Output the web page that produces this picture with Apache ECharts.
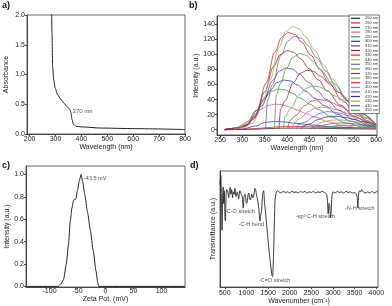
<!DOCTYPE html>
<html><head><meta charset="utf-8">
<script src="https://cdn.jsdelivr.net/npm/echarts@6/dist/echarts.min.js"></script>
<style>html,body{margin:0;padding:0;background:#fff}#c{width:392px;height:306px}</style>
</head><body><div id="c"></div>
<script>
// ---------- Panel a: UV-vis absorbance ----------
const absWavelength = [285,286.5,289,293,299,308,321,334,347,356,360,364,370,379,398,476,604,800];
const absValue      = [2.1,1.70,1.14,0.91,0.77,0.66,0.58,0.51,0.45,0.41,0.35,0.24,0.16,0.13,0.12,0.10,0.09,0.075];
const aXTicks = [200,300,400,500,600,700,800];
const aYTicks = [0,0.5,1.0,1.5,2.0];
const aNote = {x:366, y:0.38, text:'370 nm'};

// ---------- Panel b: PL emission at different excitation wavelengths ----------
const exWavelengths = [250,260,270,280,290,300,310,320,330,340,350,360,370,380,390,400,410,420,430,440,450];
const exColors = ['#222222','#d42a2a','#3a3ab8','#e0607a','#3a9a4a','#2b3a8c','#6a3a9a','#8c2030','#d02a3a','#b0a840','#5a6ac8',
                  '#4aa050','#a03040','#50b060','#d83040','#e07090','#6060c0','#303890','#a8a050','#8050a0','#40a050'];
const pl250 = [[260,0],[300,0.3],[340,1],[380,2],[420,2.2],[480,1.8],[540,1.2],[600,0.8]];
const pl260 = [[260,0],[300,0.5],[340,2],[370,3.5],[400,4.5],[450,4],[500,3.2],[550,2.5],[600,2]];
const pl270 = [[260,0],[300,1],[330,5],[350,9.5],[370,11],[390,10.5],[420,8.5],[460,6],[500,4],[550,2.5],[600,1.5]];
const pl280 = [[260,0.3],[283,2],[303,6.8],[323,16.3],[343,27.2],[358,32.3],[373,34],[388,33.3],[403,30.6],[423,26.2],[443,21.4],[463,16.7],[493,10.5],[523,5.8],[563,2.5],[600,1.2]];
const pl290 = [[260,0.3],[271,1.1],[291,3.2],[311,10.8],[331,25.9],[351,43.2],[366,51.3],[381,54],[396,52.9],[411,48.6],[431,41.6],[451,34],[471,26.5],[501,16.7],[531,9.2],[571,3.5],[600,1.8]];
const pl300 = [[260,0.3],[283,1.3],[303,4],[323,13.2],[343,31.7],[363,52.8],[378,62.7],[393,66],[408,64.7],[423,59.4],[443,50.8],[463,41.6],[483,32.3],[513,20.5],[543,11.2],[583,4.5],[600,3]];
const pl310 = [[260,0.3],[288,1.6],[308,4.9],[328,16.4],[348,39.4],[368,65.6],[383,77.9],[398,82],[413,80.4],[428,73.8],[448,63.1],[468,51.7],[488,40.2],[518,25.4],[548,13.9],[588,5],[600,3.8]];
const pl320 = [[260,0.3],[290,2.1],[310,6.3],[330,21],[350,50.4],[370,84],[385,99.8],[400,105],[415,102.9],[430,94.5],[450,80.9],[470,66.2],[490,51.5],[520,32.6],[550,17.9],[590,6],[600,4.8]];
const pl330 = [[260,0.3],[293,2.6],[313,7.7],[333,25.8],[353,61.9],[373,103.2],[388,122.6],[403,129],[418,126.4],[433,116.1],[453,99.3],[473,81.3],[493,63.2],[523,40],[553,21.9],[593,7],[600,6]];
const pl340 = [[280,0.5],[302,2.7],[322,8.2],[342,27.4],[362,65.8],[382,109.6],[397,130.2],[412,137],[427,134.3],[442,123.3],[462,105.5],[482,86.3],[502,67.1],[532,42.5],[562,23.3],[600,7.5]];
const pl350 = [[352,1],[357,40],[367,59.5],[387,99.2],[402,117.8],[417,124],[432,121.5],[447,111.6],[467,95.5],[487,78.1],[507,60.8],[537,38.4],[567,21.1],[600,7]];
const pl360 = [[372,1],[376,46],[386,62],[398,80.8],[413,96],[428,101],[443,99],[458,90.9],[478,77.8],[498,63.6],[518,49.5],[548,31.3],[578,16],[600,7.5]];
const pl370 = [[382,1],[386,28],[395,38],[415,63.2],[430,75],[445,79],[460,77.4],[475,71.1],[495,60.8],[515,49.8],[535,38.7],[565,22],[600,7]];
const pl380 = [[392,1],[396,18],[408,28],[428,46.4],[443,55],[458,58],[473,56.8],[488,52.2],[508,44.7],[528,36.5],[548,28.4],[578,15],[600,6.5]];
const pl390 = [[402,1],[406,12],[420,19.2],[440,32],[455,38],[470,40],[485,39.2],[500,36],[520,30.8],[540,25.2],[560,18.5],[580,12],[600,6]];
const pl400 = [[412,1],[416,9],[428,14.4],[448,24],[463,28.5],[478,30],[493,29.4],[508,27],[528,23.1],[548,18.9],[568,14],[600,6.5]];
const pl410 = [[422,1],[426,7],[440,10],[460,17.5],[475,22],[490,24],[505,23.5],[520,21.6],[540,18.5],[560,15],[580,10.5],[600,6]];
const pl420 = [[432,1],[436,5],[450,7.5],[470,13.5],[485,16.5],[500,18],[515,17.6],[530,16.2],[550,13.9],[570,10.5],[600,6]];
const pl430 = [[442,0.5],[446,4],[460,5.8],[480,10],[495,12.3],[510,13],[525,12.7],[540,11.7],[560,10],[580,7.8],[600,5.5]];
const pl440 = [[452,0.5],[456,2.8],[470,4.2],[490,7],[505,8.5],[520,9],[540,8.5],[560,7.4],[580,6],[600,4.5]];
const pl450 = [[462,0.5],[466,2],[480,2.9],[500,4.6],[515,5.6],[530,6],[550,5.7],[570,5],[600,3.8]];
const plSpectra = [pl250,pl260,pl270,pl280,pl290,pl300,pl310,pl320,pl330,pl340,pl350,pl360,pl370,pl380,pl390,pl400,pl410,pl420,pl430,pl440,pl450];
const bXTicks = [250,300,350,400,450,500,550,600];
const bYTicks = [0,20,40,60,80,100,120,140];

// ---------- Panel c: zeta potential ----------
const zetaPot = [-142,-85,-80,-75,-70,-66,-63,-60,-57,-53,-50,-46.5,-43.5,-41,-37,-32,-27,-22,-17,-14,-12,142];
const zetaInt = [0,0,0.02,0.06,0.2,0.38,0.58,0.7,0.77,0.78,0.86,0.95,1.0,0.94,0.82,0.66,0.5,0.32,0.14,0.04,0,0];
const cXTicks = [-100,-50,0,50,100];
const cYTicks = [0,0.2,0.4,0.6,0.8,1.0];
const cNote = {x:-38.4, y:0.968, text:'-43.5 mV'};

// ---------- Panel d: FTIR ----------
const irWavenumber = [390,400,410,425,438,450,462,475,490,505,515,530,545,560,580,593,610,625,640,660,680,700,717,735,760,790,820,850,880,905,926,945,965,980,1000,1019,1040,1057,1075,1096,1120,1150,1175,1195,1212,1235,1259,1285,1313,1330,1351,1375,1398,1420,1444,1483,1522,1560,1590,1605,1630,1661,1692,1720,1754,1800,1850,1900,1950,2000,2050,2100,2150,2200,2250,2300,2350,2400,2450,2500,2550,2600,2650,2700,2750,2800,2850,2870,2890,2910,2925,2945,2960,2975,3000,3050,3100,3150,3200,3250,3300,3350,3400,3450,3500,3540,3560,3575,3590,3610,3640,3660,3700,3750,3800,3850,3900,3950,4000,4040];
const irTrans    = [88,93,96,70,49,75,86,72,83,60,57,78,84,83,80,77,84,86,80,84,77,82,80,85,78,82,76,83,80,78,68,78,80,79,72,73,80,81,76,75,80,77,80,85,84,79,75,68,57,62,66,80,83,72,64,47,32,19,10,9,32,75,82,83,82,81,82.5,81.5,82,81,82.5,81.5,82,81,82.5,81.5,82.5,81,82,81.5,82.5,81,82,81.5,82.5,81.5,80,76,63,72,70,60,66,78,82,81,82.5,81.5,82,81,82.5,81.5,82,81,81.5,80,77,68,79,83,82,84,82,81,82,81,82.5,81,82,83];
const dXTicks = [500,1000,1500,2000,2500,3000,3500,4000];
const dNotes = [
  {x:505, y:64.9, text:'-C-O stretch'},
  {x:822, y:54.3, text:'-C-H bend'},
  {x:1291, y:6, text:'-C=O stretch'},
  {x:2146, y:61.2, text:'-sp\u00B3 C-H stretch'},
  {x:3278, y:68.1, text:'-N-H stretch'}
];

const FONT = '"Liberation Sans", Arial, sans-serif';
const TXT = '#222';
function zip(a,b){return a.map((v,i)=>[v,b[i]]);}
const plain = v=>String(v);
function xAx(gi, min, max, ticks, name, gap, margin, fmt){
  return {gridIndex:gi,type:'value',min:min,max:max,name:name,nameLocation:'middle',nameGap:gap,
    nameTextStyle:{fontSize:7,color:TXT,fontFamily:FONT},
    axisLine:{show:true,onZero:false,lineStyle:{color:'#444',width:1}},
    axisTick:{show:true,customValues:ticks,length:2,lineStyle:{color:'#444'}},
    axisLabel:{customValues:ticks,fontSize:7,margin:margin,color:TXT,fontFamily:FONT,formatter:fmt||plain},
    splitLine:{show:false}};
}
function yAx(gi, min, max, ticks, name, gap, fmt){
  return {gridIndex:gi,type:'value',min:min,max:max,name:name,nameLocation:'middle',nameGap:gap,
    nameTextStyle:{fontSize:7,color:TXT,fontFamily:FONT},
    axisLine:{show:true,onZero:false,lineStyle:{color:'#444',width:1}},
    axisTick:{show:ticks.length>0,customValues:ticks,length:2,lineStyle:{color:'#444'}},
    axisLabel:{show:ticks.length>0,customValues:ticks,fontSize:7,margin:2,color:TXT,fontFamily:FONT,formatter:fmt||plain},
    splitLine:{show:false}};
}
function note(xi, yi, n, fs){
  return {type:'scatter',xAxisIndex:xi,yAxisIndex:yi,symbolSize:0,silent:true,data:[[n.x,n.y]],z:5,
    label:{show:true,position:'right',distance:0,formatter:n.text,fontSize:fs,color:TXT,fontFamily:FONT}};
}
const gridStyle = {show:true,borderColor:'#666',borderWidth:1,backgroundColor:'transparent'};

const series = [];
series.push({type:'line',name:'abs',xAxisIndex:0,yAxisIndex:0,data:zip(absWavelength,absValue),showSymbol:false,smooth:0.3,smoothMonotone:'x',lineStyle:{color:'#222',width:1},clip:true});
series.push(note(0,0,aNote,6));
plSpectra.forEach((d,i)=>{
  series.push({type:'line',name:exWavelengths[i]+' nm',xAxisIndex:1,yAxisIndex:1,data:d,showSymbol:false,smooth:0.35,smoothMonotone:'x',
    itemStyle:{color:exColors[i]},lineStyle:{color:exColors[i],width:0.8},clip:true,z:2});
});
series.push({type:'line',name:'zeta',xAxisIndex:2,yAxisIndex:2,data:zip(zetaPot,zetaInt),showSymbol:false,smooth:0.2,smoothMonotone:'x',lineStyle:{color:'#222',width:1}});
series.push(note(2,2,cNote,5.5));
series.push({type:'line',name:'ir',xAxisIndex:3,yAxisIndex:3,data:zip(irWavenumber,irTrans),showSymbol:false,smooth:0.2,lineStyle:{color:'#222',width:0.9}});
dNotes.forEach(n=>series.push(note(3,3,n,5.5)));

const f1 = v=>v.toFixed(1);
const option = {
  animation:false,
  backgroundColor:'#fff',
  textStyle:{fontFamily:FONT},
  grid:[
    Object.assign({left:27,top:15,width:158,height:119},gridStyle),
    Object.assign({left:217,top:16,width:160,height:119},gridStyle),
    Object.assign({left:26,top:166,width:159,height:121},gridStyle),
    Object.assign({left:220,top:171,width:158,height:116},gridStyle)
  ],
  xAxis:[
    xAx(0,190,800,aXTicks,'Wavelength (nm)',8.5,1.5),
    xAx(1,243,602,bXTicks,'Wavelength (nm)',8.5,1.5),
    xAx(2,-142,142,cXTicks,'Zeta Pot. (mV)',7,1),
    xAx(3,390,4040,dXTicks,'Wavenumber (cm\u207B\u00B9)',10,3)
  ],
  yAxis:[
    yAx(0,0,2.0,aYTicks,'Absorbance',17.5,f1),
    yAx(1,-7,151,bYTicks,'Intensity (a.u.)',13.5),
    yAx(2,-0.005,1.075,cYTicks,'Intensity (a.u.)',15.8,f1),
    yAx(3,0,100,[],'Transmittance (a.u.)',3)
  ],
  legend:{
    data:exWavelengths.map(w=>w+' nm'),orient:'vertical',left:349,top:15,
    itemWidth:9,itemHeight:1.2,itemGap:0,icon:'rect',
    textStyle:{fontSize:4,lineHeight:4.6,color:'#333',fontFamily:FONT,padding:0},
    borderColor:'#555',borderWidth:0.8,padding:[1,1,1,2],backgroundColor:'#fff',selectedMode:false
  },
  graphic:[
    {type:'text',left:2,top:1,style:{text:'a)',font:'bold 9px '+FONT,fill:'#111'}},
    {type:'text',left:189,top:1,style:{text:'b)',font:'bold 9px '+FONT,fill:'#111'}},
    {type:'text',left:2,top:161,style:{text:'c)',font:'bold 9px '+FONT,fill:'#111'}},
    {type:'text',left:190,top:161,style:{text:'d)',font:'bold 9px '+FONT,fill:'#111'}}
  ],
  series:series
};
const chart = echarts.init(document.getElementById('c'),null,{renderer:'canvas'});
chart.setOption(option);
</script></body></html>
